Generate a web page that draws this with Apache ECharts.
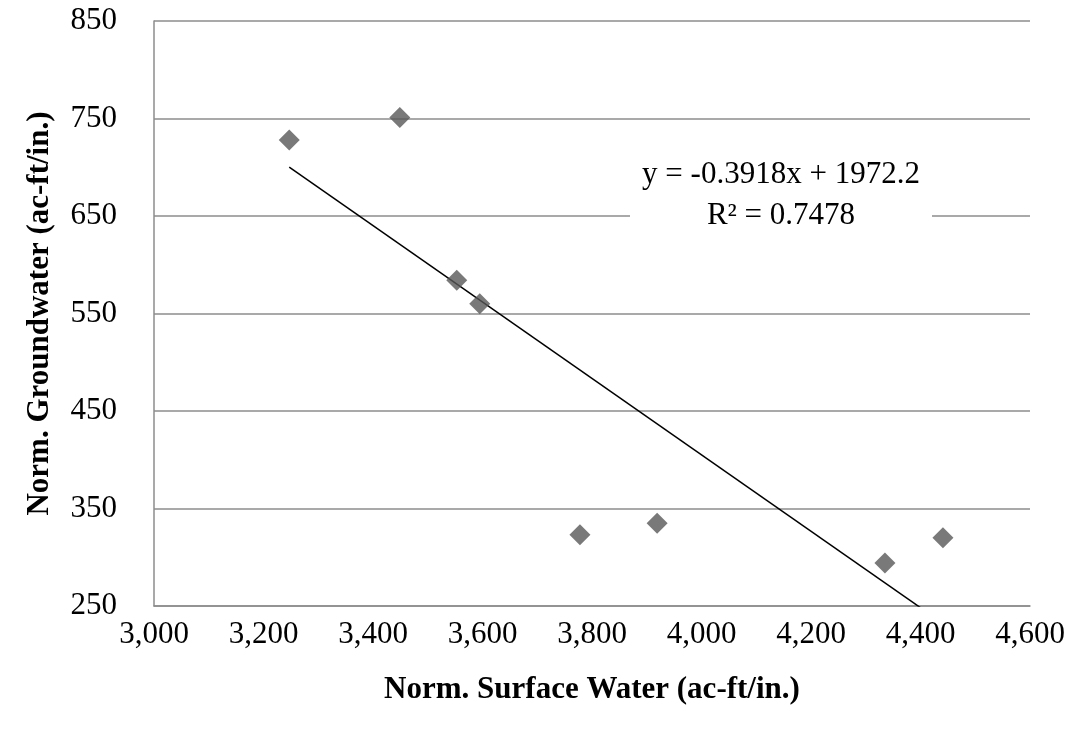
<!DOCTYPE html>
<html><head><meta charset="utf-8">
<script src="https://cdn.jsdelivr.net/npm/echarts@6/dist/echarts.min.js"></script>
<style>html,body{margin:0;padding:0;background:#fff}#c{width:1071px;height:731px}</style>
</head><body><div id="c"></div>
<script>
const surfaceWater = [3247, 3449, 3553, 3595, 3778, 3919, 4335, 4441];
const groundwater = [728, 751, 584, 560, 323, 335, 294, 320];
const trendSlope = -0.3918;
const trendIntercept = 1972.2;
const equationText = ['y = -0.3918x + 1972.2', 'R² = 0.7478'];

const pts = surfaceWater.map((x, i) => [x, groundwater[i]]);
const xMin = Math.min(...surfaceWater), xMax = Math.max(...surfaceWater);
const trend = [[xMin, trendSlope * xMin + trendIntercept], [xMax, trendSlope * xMax + trendIntercept]];

const font = '"Liberation Serif", "Times New Roman", serif';
const fs = 31;
const chart = echarts.init(document.getElementById('c'));
chart.setOption({
  animation: false,
  backgroundColor: '#fff',
  grid: { left: 154, right: 41, top: 21, bottom: 125 },
  xAxis: {
    type: 'value', min: 3000, max: 4600, interval: 200,
    name: 'Norm. Surface Water (ac-ft/in.)', nameLocation: 'middle', nameGap: 68,
    nameTextStyle: { fontFamily: font, fontSize: fs, fontWeight: 'bold', color: '#000' },
    axisLine: { show: true, lineStyle: { color: '#8c8c8c', width: 1.5 } },
    axisTick: { show: false },
    splitLine: { show: false },
    axisLabel: { fontFamily: font, fontSize: fs, color: '#000', margin: 13,
      formatter: v => v.toLocaleString('en-US') }
  },
  yAxis: {
    type: 'value', min: 250, max: 850, interval: 100,
    name: 'Norm. Groundwater (ac-ft/in.)', nameLocation: 'middle', nameGap: 99,
    nameTextStyle: { fontFamily: font, fontSize: fs, fontWeight: 'bold', color: '#000' },
    axisLine: { show: true, lineStyle: { color: '#8c8c8c', width: 1.5 } },
    axisTick: { show: false },
    splitLine: { show: true, lineStyle: { color: '#8c8c8c', width: 1.5 } },
    axisLabel: { fontFamily: font, fontSize: fs, color: '#000', margin: 37 }
  },
  series: [
    {
      type: 'line', data: trend, symbol: 'none', clip: true, silent: true,
      lineStyle: { color: '#000', width: 1.5 }, z: 2
    },
    {
      type: 'scatter', data: pts, symbol: 'diamond', symbolSize: 21,
      itemStyle: { color: '#585858' }, z: 3
    }
  ],
  graphic: [
    {
      type: 'rect', z: 9, silent: true,
      shape: { x: 630, y: 152, width: 302, height: 84 },
      style: { fill: '#fff' }
    },
    {
      type: 'text', z: 10, x: 781, y: 154,
      style: {
        text: equationText.join('\n'), fontFamily: font, fontSize: fs, lineHeight: 41,
        fill: '#000', align: 'center', verticalAlign: 'top'
      }
    }
  ]
});
</script></body></html>
